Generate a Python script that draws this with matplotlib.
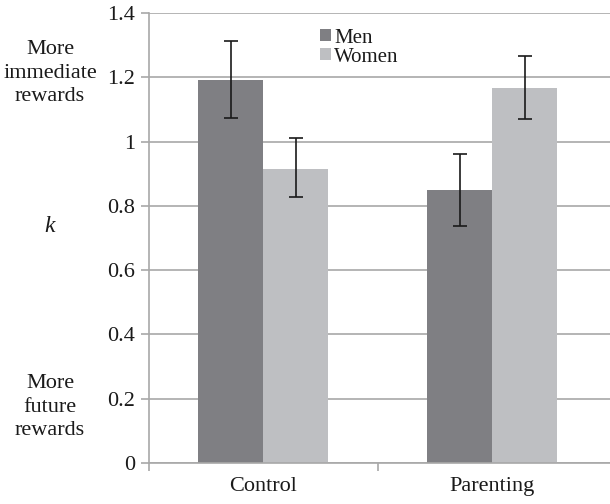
import matplotlib.pyplot as plt
import numpy as np

# Data
groups   = ['Control', 'Parenting']
men      = [1.19, 0.85]
women    = [0.915, 1.167]
men_err  = [[0.118, 0.112], [0.122, 0.112]]    # [lower], [upper]
women_err = [[0.087, 0.097], [0.097, 0.099]]
yticks   = [0, 0.2, 0.4, 0.6, 0.8, 1.0, 1.2, 1.4]
ytick_labels = ['0', '0.2', '0.4', '0.6', '0.8', '1', '1.2', '1.4']

plt.rcParams['font.family'] = ['Liberation Serif', 'DejaVu Serif']

fig = plt.figure(figsize=(6.10, 5.04), dpi=100)
ax = fig.add_axes([149/610, 41/504, 1 - 149/610, 450/504])

x = np.arange(len(groups))
w = 0.284
ax.bar(x - w/2, men, w, color='#7f7f83', label='Men', zorder=2)
ax.bar(x + w/2, women, w, color='#bebfc2', label='Women', zorder=2)
ax.errorbar(x - w/2, men, yerr=men_err, fmt='none', ecolor='#1a1a1a',
            elinewidth=1.2, capsize=5, capthick=1.2, zorder=3)
ax.errorbar(x + w/2, women, yerr=women_err, fmt='none', ecolor='#1a1a1a',
            elinewidth=1.2, capsize=5, capthick=1.2, zorder=3)

ax.set_xlim(-0.5, 1.515)
ax.set_ylim(0, 1.4)
ax.set_yticks(yticks)
ax.set_yticklabels(ytick_labels, fontsize=16)
ax.yaxis.grid(True, color='#a8a8a8', linewidth=1.2, zorder=0)
ax.set_axisbelow(True)

ax.set_xticks([-0.5, 0.5])
ax.set_xticklabels([])
ax.set_xticks(x, minor=True)
ax.set_xticklabels(groups, minor=True, fontsize=16)
ax.tick_params(axis='x', which='minor', length=0, pad=10, labelcolor='#1a1a1a')
ax.tick_params(axis='x', which='major', length=6, color='#a8a8a8', width=1.2)
ax.tick_params(axis='y', length=6, color='#a8a8a8', width=1.2, pad=4, labelcolor='#1a1a1a')

for s in ['top', 'right']:
    ax.spines[s].set_visible(False)
ax.spines['left'].set_color('#a8a8a8')
ax.spines['bottom'].set_color('#a8a8a8')
ax.spines['left'].set_linewidth(1.2)
ax.spines['bottom'].set_linewidth(1.2)

fig.text(50/610, 1 - 73/504, 'More\nimmediate\nrewards', ha='center', va='center',
         fontsize=16, linespacing=1.3, color='#1a1a1a')
fig.text(50/610, 1 - 227/504, 'k', ha='center', va='center', fontsize=17,
         style='italic', color='#1a1a1a')
fig.text(50/610, 1 - 407/504, 'More\nfuture\nrewards', ha='center', va='center',
         fontsize=16, linespacing=1.3, color='#1a1a1a')

leg = ax.legend(loc='upper left', bbox_to_anchor=(0.372, 0.965), frameon=False,
                fontsize=15, handlelength=0.5, handleheight=0.5, handletextpad=0.15,
                labelspacing=0.0, borderaxespad=0, borderpad=0)
for t in leg.get_texts():
    t.set_color('#1a1a1a')

fig.savefig('out.png', dpi=100)
